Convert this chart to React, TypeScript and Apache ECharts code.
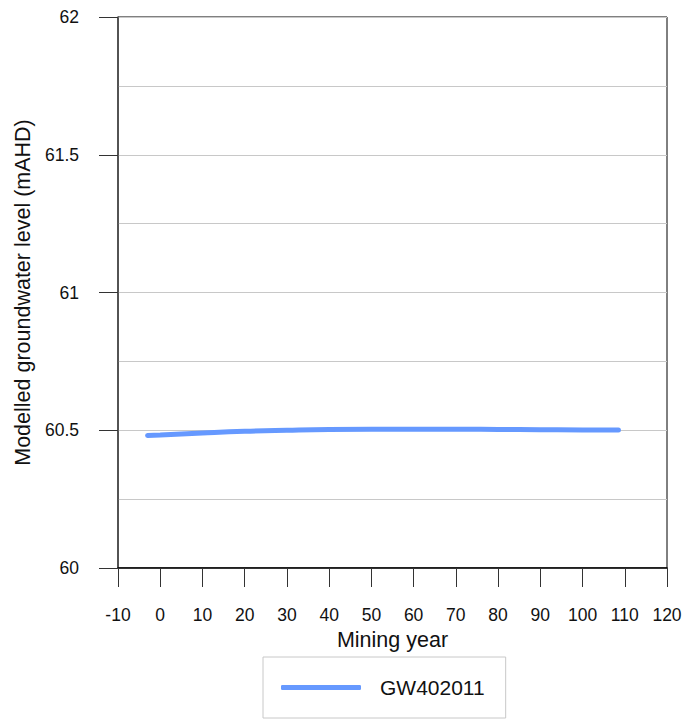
import React, { useEffect, useRef } from "react";
import * as echarts from "echarts";

const seriesName = "GW402011";
const years = [-3, 0, 10, 20, 30, 40, 50, 60, 70, 80, 90, 100, 108.5];
const levels = [60.481, 60.483, 60.49, 60.496, 60.5, 60.503, 60.504, 60.504, 60.504, 60.503, 60.502, 60.501, 60.501];

export default function App() {
  const ref = useRef<HTMLDivElement>(null);
  useEffect(() => {
    const chart = echarts.init(ref.current!, null, { renderer: "svg" });
    const font = "Liberation Sans, Arial, sans-serif";
    chart.setOption({
      animation: false,
      textStyle: { fontFamily: font },
      grid: { left: 118, right: 22, top: 17, bottom: 152, show: true, borderColor: "#000", borderWidth: 1 },
      xAxis: {
        type: "value",
        min: -10,
        max: 120,
        interval: 10,
        name: "Mining year",
        nameLocation: "middle",
        nameGap: 60,
        nameTextStyle: { fontSize: 21.5, color: "#111", fontFamily: font },
        axisLine: { show: true, onZero: false, lineStyle: { color: "#000", width: 1.5 } },
        axisTick: { show: true, inside: false, length: 19, lineStyle: { color: "#333" } },
        axisLabel: { fontSize: 17.5, color: "#111", margin: 38, fontFamily: font },
        splitLine: { show: false },
      },
      yAxis: [
        {
          type: "value",
          min: 60,
          max: 62,
          interval: 0.5,
          name: "Modelled groundwater level (mAHD)",
          nameLocation: "middle",
          nameGap: 82,
          nameTextStyle: { fontSize: 21.5, color: "#111", fontFamily: font },
          axisLine: { show: true, onZero: false, lineStyle: { color: "#444", width: 1.5 } },
          axisTick: { show: true, inside: false, length: 19, lineStyle: { color: "#333" } },
          axisLabel: { fontSize: 17.5, color: "#111", margin: 39, fontFamily: font },
          splitLine: { show: true, lineStyle: { color: "#bbb", width: 1 } },
        },
        {
          type: "value",
          min: 60,
          max: 62,
          interval: 0.25,
          position: "left",
          axisLine: { show: false, onZero: false },
          axisTick: { show: false },
          axisLabel: { show: false },
          splitLine: { show: true, lineStyle: { color: "#c8c8c8", width: 1 } },
        },
      ],
      legend: {
        show: true,
        left: 263,
        top: 657,
        data: [seriesName],
        icon: "roundRect",
        itemWidth: 80,
        itemHeight: 5,
        padding: [20, 21, 20, 18],
        borderColor: "#c8c8c8",
        borderWidth: 1,
        textStyle: { fontSize: 21, color: "#111", padding: [0, 0, 0, 14], fontFamily: font },
      },
      series: [
        {
          name: seriesName,
          type: "line",
          yAxisIndex: 0,
          data: years.map((y, i) => [y, levels[i]]),
          smooth: true,
          showSymbol: false,
          lineStyle: { color: "#6699ff", width: 5, cap: "round" },
          itemStyle: { color: "#6699ff" },
        },
      ],
    });
    return () => chart.dispose();
  }, []);
  return <div ref={ref} style={{ width: 689, height: 720, position: "absolute", left: 0, top: 0 }} />;
}
